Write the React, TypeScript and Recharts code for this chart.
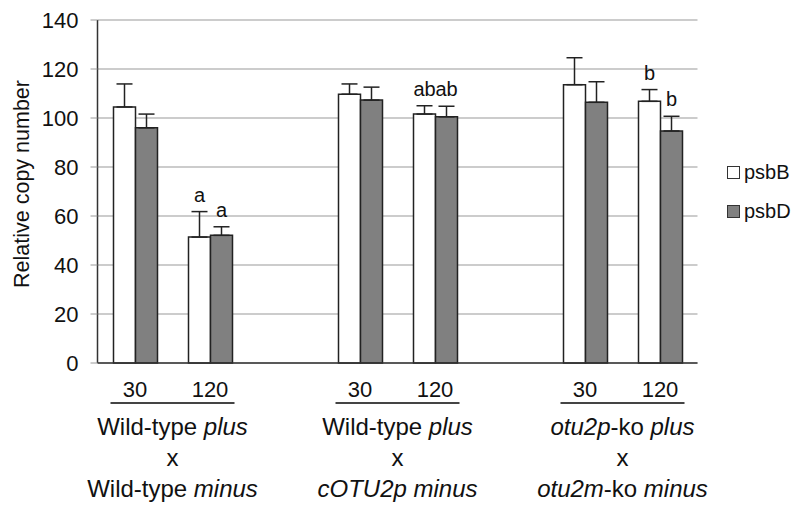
import React from "react";
import {
  Bar,
  BarChart,
  CartesianGrid,
  ErrorBar,
  LabelList,
  Legend,
  XAxis,
  YAxis,
} from "recharts";

const categories = ["wt-30", "wt-120", "gap-1", "cotu-30", "cotu-120", "gap-2", "ko-30", "ko-120"];
const timeLabels = ["30", "120", "", "30", "120", "", "30", "120"];
const psbB = [104.5, 51.4, null, 109.7, 101.6, null, 113.6, 106.8];
const psbBErr = [9.4, 10.4, null, 4.2, 3.4, null, 11.0, 4.8];
const psbD = [96.0, 52.1, null, 107.3, 100.5, null, 106.4, 94.7];
const psbDErr = [5.6, 3.5, null, 5.3, 4.3, null, 8.4, 6.0];
const psbBLetters = ["", "a", "", "", "ab", "", "", "b"];
const psbDLetters = ["", "a", "", "", "ab", "", "", "b"];
const yTicks = [0, 20, 40, 60, 80, 100, 120, 140];

// first category of each cross, and its caption lines as [text, italic] pieces
const groupStarts = [0, 3, 6];
const groupCaptions: [string, boolean][][][] = [
  [[["Wild-type ", false], ["plus", true]], [["x", false]], [["Wild-type ", false], ["minus", true]]],
  [[["Wild-type ", false], ["plus", true]], [["x", false]], [["cOTU2p minus", true]]],
  [
    [["otu2p", true], ["-ko ", false], ["plus", true]],
    [["x", false]],
    [["otu2m", true], ["-ko ", false], ["minus", true]],
  ],
];

// letter label carries "letter|value|error" so the label can sit above the error bar
const mark = (letter: string, v: number | null, e: number | null) =>
  letter && v != null && e != null ? `${letter}|${v}|${e}` : "";

const data = categories.map((c, i) => ({
  name: c,
  psbB: psbB[i],
  psbD: psbD[i],
  psbBErr: psbBErr[i] == null ? null : [0, psbBErr[i]],
  psbDErr: psbDErr[i] == null ? null : [0, psbDErr[i]],
  psbBMark: mark(psbBLetters[i], psbB[i], psbBErr[i]),
  psbDMark: mark(psbDLetters[i], psbD[i], psbDErr[i]),
}));

const FONT = "Arial, 'Liberation Sans', Helvetica, sans-serif";

const XTick = (props: any) => {
  const { x, y, payload } = props;
  const i = categories.indexOf(payload.value);
  const g = groupStarts.indexOf(i);
  const cx = x + 37.5;
  return (
    <g fontFamily={FONT} fill="#111">
      <text x={x} y={y + 34} textAnchor="middle" fontSize={22}>
        {timeLabels[i]}
      </text>
      {g >= 0 && (
        <g>
          <line x1={cx - 62} x2={cx + 62} y1={y + 40} y2={y + 40} stroke="#444" strokeWidth={2} />
          {groupCaptions[g].map((line, li) => (
            <text key={li} x={cx} y={y + 72 + li * 31} textAnchor="middle" fontSize={24}>
              {line.map(([t, it], k) => (
                <tspan key={k} fontStyle={it ? "italic" : "normal"}>
                  {t}
                </tspan>
              ))}
            </text>
          ))}
        </g>
      )}
    </g>
  );
};

const LetterLabel = (props: any) => {
  const { x, y, width, height, value } = props;
  if (!value) return null;
  const [letter, vs, es] = String(value).split("|");
  const v = Number(vs);
  const e = Number(es);
  const top = y - (e * height) / v;
  return (
    <text x={x + width / 2} y={top - 10} textAnchor="middle" fontSize={20} fontFamily={FONT} fill="#111">
      {letter}
    </text>
  );
};

const LegendBox = () => (
  <div style={{ fontFamily: FONT, fontSize: 20, color: "#111" }}>
    {[
      { name: "psbB", fill: "#ffffff" },
      { name: "psbD", fill: "#808080" },
    ].map((it) => (
      <div key={it.name} style={{ display: "flex", alignItems: "center", height: 39 }}>
        <span
          style={{
            display: "inline-block",
            width: 11,
            height: 11,
            background: it.fill,
            border: "1px solid #333",
            marginRight: 4,
          }}
        />
        {it.name}
      </div>
    ))}
  </div>
);

export default function App() {
  return (
    <div style={{ position: "absolute", left: 0, top: 0, background: "#fff" }}>
      <BarChart
        width={799}
        height={508}
        data={data}
        margin={{ top: 20, right: 101.5, left: 0, bottom: 0 }}
        barSize={22}
        barGap={0}
      >
        <CartesianGrid vertical={false} stroke="#9a9a9a" strokeWidth={1.2} />
        <XAxis
          dataKey="name"
          height={145}
          interval={0}
          tickLine={false}
          tickSize={0}
          tickMargin={0}
          axisLine={{ stroke: "#333", strokeWidth: 1.5 }}
          tick={<XTick />}
        />
        <YAxis
          width={97.5}
          domain={[0, 140]}
          ticks={yTicks}
          tickSize={7}
          tickMargin={12}
          tickLine={{ stroke: "#9a9a9a" }}
          axisLine={{ stroke: "#333", strokeWidth: 1.5 }}
          tick={{ fontSize: 22, fill: "#111", fontFamily: FONT }}
          label={() => (
            <text
              x={22}
              y={184}
              transform="rotate(-90 22 184)"
              textAnchor="middle"
              dominantBaseline="central"
              fontSize={21.5}
              fontFamily={FONT}
              fill="#111"
            >
              Relative copy number
            </text>
          )}
        />
        <Legend
          layout="vertical"
          align="center"
          verticalAlign="middle"
          wrapperStyle={{ left: 727, top: 153, width: 72 }}
          content={<LegendBox />}
        />
        <Bar dataKey="psbB" fill="#ffffff" stroke="#222" strokeWidth={1.5} isAnimationActive={false}>
          <ErrorBar dataKey="psbBErr" direction="y" width={8} stroke="#222" strokeWidth={1.5} />
          <LabelList dataKey="psbBMark" content={<LetterLabel />} />
        </Bar>
        <Bar dataKey="psbD" fill="#808080" stroke="#222" strokeWidth={1.5} isAnimationActive={false}>
          <ErrorBar dataKey="psbDErr" direction="y" width={8} stroke="#222" strokeWidth={1.5} />
          <LabelList dataKey="psbDMark" content={<LetterLabel />} />
        </Bar>
      </BarChart>
    </div>
  );
}
